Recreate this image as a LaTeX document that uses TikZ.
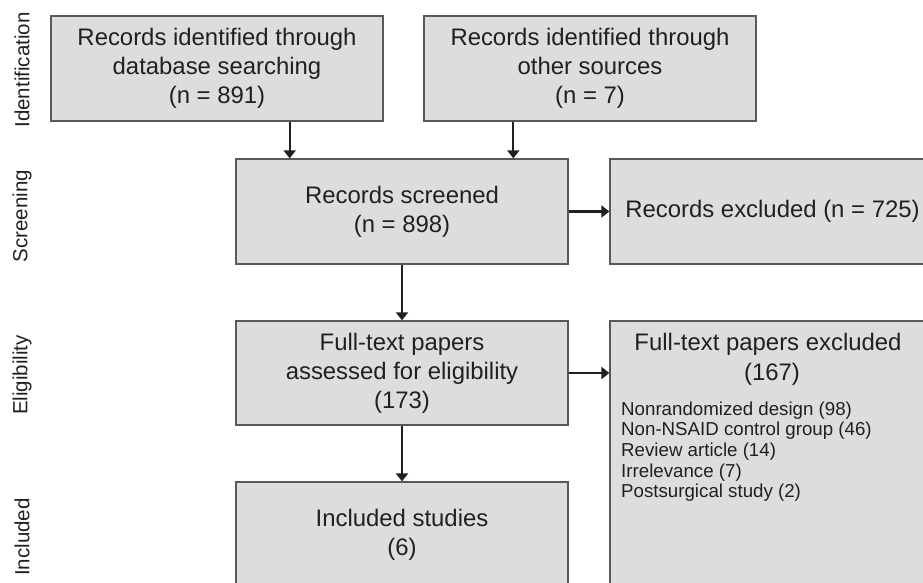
\documentclass[tikz,border=0pt]{standalone}
\usepackage{fontspec}
\setmainfont{Liberation Sans}
\usetikzlibrary{arrows.meta,calc}
\definecolor{boxfill}{HTML}{DCDDDF}
\definecolor{boxline}{HTML}{58595B}
\definecolor{ink}{HTML}{231F20}
\begin{document}
\begin{tikzpicture}[x=1pt,y=-1pt,
  stagebox/.style={draw=boxline,fill=boxfill,line width=1.3pt,rectangle,inner sep=0pt,
     align=center,text=ink,font=\fontsize{23.9}{29}\selectfont},
  arr/.style={draw=ink,line width=2.3pt,-{Triangle[length=8pt,width=12pt]}},
  sidelabel/.style={rotate=90,text=ink,font=\fontsize{20.5}{24}\selectfont},
  smalltxt/.style={text=ink,font=\fontsize{18.7}{20.7}\selectfont,inner sep=0pt}]
\useasboundingbox (0,0) rectangle (923,582);
\clip (0,0) rectangle (923,582);
\fill[white] (0,0) rectangle (923,582);
% side labels
\node[sidelabel] (lid) at (22,70) {Identification};
\node[sidelabel] (lsc) at (22,216) {Screening};
\node[sidelabel] (lel) at (22,375) {Eligibility};
\node[sidelabel] (lin) at (22,537) {Included};
% boxes
\node[stagebox,minimum width=332pt,minimum height=105pt] (A) at (217,68.5)
  {Records identified through\\database searching\\(n = 891)};
\node[stagebox,minimum width=332pt,minimum height=105pt] (B) at (590,68.5)
  {Records identified through\\other sources\\(n = 7)};
\node[stagebox,minimum width=332pt,minimum height=105pt] (C) at (402,211.5)
  {Records screened\\(n = 898)};
\node[stagebox,minimum width=325pt,minimum height=105pt] (D) at (772.5,211.5)
  {Records excluded (n = 725)};
\node[stagebox,minimum width=332pt,minimum height=104pt] (E) at (402,373)
  {Full-text papers\\assessed for eligibility\\(173)};
\node[stagebox,minimum width=325pt,minimum height=290pt] (F) at (772.5,466) {};
\node[stagebox,minimum width=332pt,minimum height=105pt] (G) at (402,534.5)
  {Included studies\\(6)};
% text of F
\node[text=ink,font=\fontsize{23.9}{29}\selectfont,inner sep=0pt,anchor=base] (F1) at (768,350) {Full-text papers excluded};
\node[text=ink,font=\fontsize{23.9}{29}\selectfont,inner sep=0pt,anchor=base] (F2) at (772,380) {(167)};
\node[smalltxt,anchor=base west] (r1) at (621,415) {Nonrandomized design (98)};
\node[smalltxt,anchor=base west] (r2) at (621,435.7) {Non-NSAID control group (46)};
\node[smalltxt,anchor=base west] (r3) at (621,456.4) {Review article (14)};
\node[smalltxt,anchor=base west] (r4) at (621,477.1) {Irrelevance (7)};
\node[smalltxt,anchor=base west] (r5) at (621,497.8) {Postsurgical study (2)};
% connectors
\coordinate (cA) at ($(C.north west)!0.163!(C.north east)$);
\coordinate (cB) at ($(C.north west)!0.834!(C.north east)$);
\draw[arr] (cA |- A.south) -- (cA);
\draw[arr] (cB |- B.south) -- (cB);
\draw[arr] (C.east) -- (D.west);
\draw[arr] (C.south) -- (E.north);
\draw[arr] (E.east) -- (E.east -| F.west);
\draw[arr] (E.south) -- (G.north);
\end{tikzpicture}
\end{document}
